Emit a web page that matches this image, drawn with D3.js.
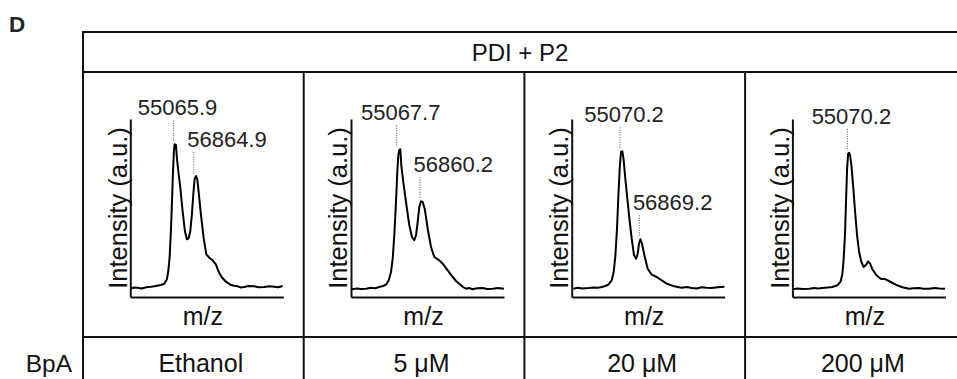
<!DOCTYPE html>
<html lang="en">
<head>
<meta charset="UTF-8">
<title>PDI + P2 mass spectra</title>
<script src="https://cdn.jsdelivr.net/npm/d3@7"></script>
<style>
  body { margin: 0; background: #fff; }
  svg { display: block; font-family: "Liberation Sans", Arial, sans-serif; }
</style>
</head>
<body>
<script>
// BpA treatment per column
const conditions = ["Ethanol", "5 μM", "20 μM", "200 μM"];
const headerLabel = "PDI + P2";
const rowLabel = "BpA";
const panelLetter = "D";

// deconvoluted masses shown over the peaks, and where their dotted leader sits (relative m/z)
const peakLabels = [["55065.9", "56864.9"], ["55067.7", "56860.2"], ["55070.2", "56869.2"], ["55070.2"]];
const peakMz = [[43.3, 63.5], [45.7, 69], [48.3, 67.7], [55]];

// spectra: [relative m/z, intensity (a.u.)]
const ethanol = [
  [0.6, 8.7], [4, 9.5], [7.3, 9.3], [11, 8.6], [17.3, 10], [21, 10.3], [24, 10.7], [28, 11.6], [30.6, 12],
  [34, 13.3], [36.6, 17.7], [38, 26], [39.3, 39.3], [40.6, 66], [41.6, 92.7], [42.6, 122.7], [43.6, 146],
  [44.3, 152.7], [45.6, 152], [46.6, 139.3], [48, 126], [50, 109.3], [52.3, 86], [54.6, 66], [56.6, 57.7],
  [58.3, 58.7], [60, 66], [61.6, 82.7], [63, 102.7], [64.3, 117.7], [65.6, 121], [67, 117.7], [68.6, 102.7],
  [70.6, 82.7], [73.3, 59.3], [76, 42.7], [79, 39.3], [82.3, 36.7], [85.6, 32.7], [88, 26], [91.3, 20],
  [95.6, 15.3], [100.6, 12], [104, 11.2], [107.3, 10.7], [110, 9.6], [114, 10], [118, 11], [124, 10.7],
  [128, 9.8], [134, 10], [139, 10.8], [144, 10.3], [148, 9.7], [152.3, 11]
];
const bpa5 = [
  [1, 7.7], [6, 8.6], [10, 8.1], [15, 8.3], [20, 9.2], [24, 8.8], [28.3, 10], [32, 11], [35, 12.3],
  [37.7, 16.7], [40, 25], [41.7, 38.3], [43.3, 61.7], [45, 95], [46.3, 125], [47.3, 141.7], [48.3, 146.7],
  [49.3, 147.7], [50.3, 131.7], [52.3, 115], [55, 95], [58.3, 71.7], [61, 60], [63.3, 56.7], [65, 61.7],
  [66.7, 75], [68.3, 90], [70, 95.7], [71.7, 95], [73.7, 88.3], [76.7, 68.3], [80, 50], [83.3, 40],
  [88.3, 36.7], [91.7, 33.3], [96.7, 26.7], [101.7, 20], [105, 16], [108.3, 13.3], [112, 10], [115, 8.3],
  [118, 9], [121.7, 7.7], [126, 8.8], [131.7, 9], [136, 8], [141.7, 8.3], [147, 9], [153, 8.3]
];
const bpa20 = [
  [1.7, 8.3], [6, 9.2], [11, 8.6], [16.7, 9], [22, 9.6], [26, 9.2], [30, 10], [33.5, 11], [36.7, 12.3],
  [40, 16.7], [42, 25], [43.7, 41.7], [45.3, 68.3], [46.7, 101.7], [48, 128.3], [49.3, 145], [50.7, 145.7],
  [52, 136.7], [53.3, 121.7], [55.3, 101.7], [57.7, 78.3], [60, 58.3], [62.3, 41.7], [64.3, 38.3], [66, 43.3],
  [67.3, 53.3], [68.7, 57.7], [70.3, 53.3], [72.7, 41.7], [76, 28.3], [80, 22.3], [85, 20], [90, 16.7],
  [95, 13.3], [101.7, 11], [106, 10], [110, 9.3], [115, 10], [120, 9], [125, 8.5], [130, 9.7], [135, 9.2],
  [140, 9], [146, 9.8], [152.7, 10.3]
];
const bpa200 = [
  [0.7, 7.7], [5, 8.4], [10, 8], [16.7, 8.3], [22, 8.9], [26, 8.5], [30, 9], [35, 9.4], [40, 10],
  [45, 11.7], [48.3, 15.7], [50, 23.3], [51.3, 38.3], [52.7, 65], [53.7, 98.3], [54.7, 128.3], [55.7, 143.3],
  [56.7, 144.3], [57.7, 141.7], [59, 131.7], [60.7, 111.7], [62.7, 85], [64.7, 61.7], [66.7, 45], [69, 35],
  [71.3, 30], [73.7, 32.3], [75.7, 35.7], [77.7, 33.3], [80, 27.7], [84, 21.7], [88.3, 18.3], [93.3, 17.7],
  [98.3, 15], [103.3, 12.3], [110, 9.7], [116.7, 8.3], [121, 8.8], [126.7, 9], [131, 8.2], [136.7, 8.3],
  [142, 9], [147, 8.6], [152.7, 8.3]
];
const spectra = [ethanol, bpa5, bpa20, bpa200];

const width = 957, height = 379;
const tableLeft = 83, tableTop = 32, headerBottom = 72, rowTop = 337;
const colWidth = 220.7;
const axisTop = 119, axisBottom = 297, axisLen = 153, axisInset = 47.3;

const svg = d3.select("body").append("svg")
    .attr("width", width)
    .attr("height", height);

const col = d3.scaleBand()
    .domain(conditions)
    .range([tableLeft, tableLeft + colWidth * conditions.length]);

const x = d3.scaleLinear().domain([0, 153]).range([0, axisLen]);
const y = d3.scaleLinear().domain([0, 178]).range([axisBottom, axisTop]);

// table grid
const grid = svg.append("g").attr("stroke", "#111").attr("stroke-width", 2);
[tableTop, headerBottom, rowTop].forEach(yy => {
  grid.append("line").attr("x1", tableLeft).attr("x2", width).attr("y1", yy).attr("y2", yy);
});
grid.append("line").attr("x1", tableLeft).attr("x2", tableLeft).attr("y1", tableTop - 1).attr("y2", height);
conditions.slice(1).forEach(c => {
  grid.append("line").attr("x1", col(c)).attr("x2", col(c)).attr("y1", headerBottom).attr("y2", height);
});

svg.append("text")
    .attr("x", 9).attr("y", 32)
    .attr("font-size", 22.5).attr("font-weight", "bold").attr("fill", "#222")
    .text(panelLetter);

svg.append("text")
    .attr("x", (tableLeft + width) / 2).attr("y", 60.5)
    .attr("text-anchor", "middle").attr("font-size", 24).attr("fill", "#111")
    .text(headerLabel);

svg.append("text")
    .attr("x", 72).attr("y", 372)
    .attr("text-anchor", "end").attr("font-size", 24.5).attr("fill", "#111")
    .text(rowLabel);

const line = d3.line().x(d => x(d[0])).y(d => y(d[1]));

conditions.forEach((c, i) => {
  const g = svg.append("g").attr("transform", `translate(${col(c) + axisInset},0)`);

  g.append("g")
      .call(d3.axisLeft(y).tickValues([]).tickSizeOuter(0))
      .call(a => a.select(".domain").attr("stroke", "#111").attr("stroke-width", 2));
  g.append("g")
      .attr("transform", `translate(0,${axisBottom})`)
      .call(d3.axisBottom(x).tickValues([]).tickSizeOuter(0))
      .call(a => a.select(".domain").attr("stroke", "#111").attr("stroke-width", 2));

  g.append("path")
      .datum(spectra[i])
      .attr("fill", "none")
      .attr("stroke", "#000")
      .attr("stroke-width", 2)
      .attr("stroke-linejoin", "round")
      .attr("d", line);

  // peak annotations
  peakLabels[i].forEach((lab, j) => {
    const mz = peakMz[i][j];
    const top = d3.max(spectra[i].filter(d => d[0] >= mz - 1 && d[0] <= mz + 6), d => d[1]);
    const py = y(top);
    const base = py - 29;
    g.append("line")
        .attr("x1", x(mz)).attr("x2", x(mz))
        .attr("y1", base + 5).attr("y2", py - 2)
        .attr("stroke", "#888").attr("stroke-width", 1.2)
        .attr("stroke-dasharray", "1.2,1.2");
    g.append("text")
        .attr("x", j === 0 ? x(mz) + 4 : x(mz) - 6.5)
        .attr("y", base)
        .attr("text-anchor", j === 0 ? "middle" : "start")
        .attr("font-size", 22).attr("fill", "#222")
        .text(lab);
  });

  g.append("text")
      .attr("transform", `translate(-3.8,${(axisTop + axisBottom) / 2}) rotate(-90)`)
      .attr("text-anchor", "middle")
      .attr("font-size", 25.5).attr("fill", "#111")
      .text("Intensity (a.u.)");

  g.append("text")
      .attr("x", axisLen / 2 - 4).attr("y", 325)
      .attr("text-anchor", "middle").attr("font-size", 25).attr("fill", "#111")
      .text("m/z");

  g.append("text")
      .attr("x", axisLen / 2 - 6).attr("y", 372)
      .attr("text-anchor", "middle").attr("font-size", 25).attr("fill", "#111")
      .text(c);
});
</script>
</body>
</html>
